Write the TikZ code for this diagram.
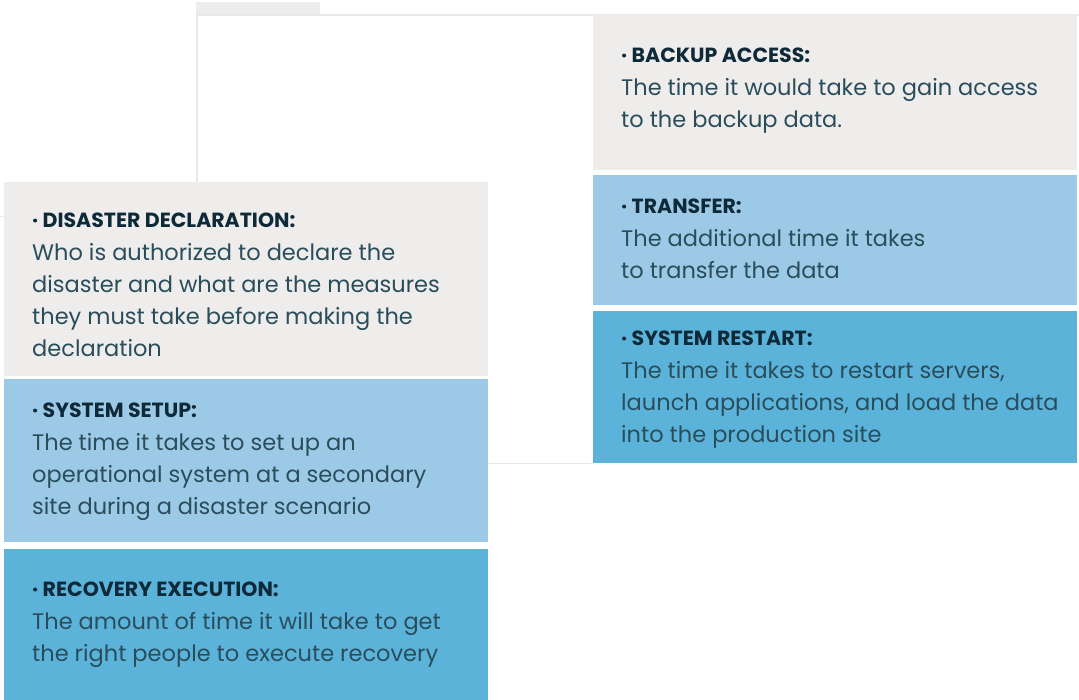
\documentclass[tikz,border=0pt]{standalone}
\usepackage{fontspec}
\setmainfont{Poppins}
\usepackage{tikz}
\usetikzlibrary{positioning}

\definecolor{boxgrey}{HTML}{EEEDEB}
\definecolor{boxlight}{HTML}{9CCAE6}
\definecolor{boxblue}{HTML}{5BB3DA}
\definecolor{headnavy}{HTML}{0E2A38}
\definecolor{bodyslate}{HTML}{2A4D5C}
\definecolor{faint}{HTML}{E9E9E9}

\tikzset{
  panel/.style={rectangle, inner sep=0pt, outer sep=0pt, anchor=north west, fill=#1},
  blurb/.style={anchor=north west, inner sep=0pt, align=left, text=bodyslate,
    font=\fontsize{22.5}{32}\selectfont},
  guide/.style={draw=faint, line width=1.2pt}
}
\newcommand{\hd}[1]{{\color{headnavy}\fontsize{20.5}{33}\selectfont\bfseries\textperiodcentered\ #1}}

\begin{document}
\begin{tikzpicture}[x=1pt, y=-1pt]
    \useasboundingbox (0,0) rectangle (1079,700);
    % faint frame behind the panels
    \fill[boxgrey] (196,2) rectangle (320,15);
    \coordinate (ftl) at (197,15);
    \coordinate (ftr) at (1079,15);
    \coordinate (fbl) at (197,182);
    \coordinate (fl1) at (0,216.5);
    \coordinate (fl2) at (4,216.5);
    \coordinate (fb1) at (488,463.5);
    \coordinate (fb2) at (594,463.5);
    \draw[guide] (ftr) -- (ftl) -- (fbl);
    \draw[guide] (fl1) -- (fl2);
    \draw[guide] (fb1) -- (fb2);

    % right column
    \node[panel=boxgrey, minimum width=484pt, minimum height=155pt] (backup) at (593,15) {};
    \node[panel=boxlight, minimum width=484pt, minimum height=130pt] (transfer) at (593,175) {};
    \node[panel=boxblue, minimum width=484pt, minimum height=152pt] (restart) at (593,311) {};

    % left column
    \node[panel=boxgrey, minimum width=484pt, minimum height=194pt] (declare) at (4,182) {};
    \node[panel=boxlight, minimum width=484pt, minimum height=163pt] (setup) at (4,379) {};
    \node[panel=boxblue, minimum width=484pt, minimum height=151pt] (execute) at (4,549) {};

    \node[blurb] (backuptxt) at (621,48) {\hd{BACKUP ACCESS:}\\[1pt]The time it would take to gain access\\to the backup data.};
    \node[blurb] (transfertxt) at (621,199) {\hd{TRANSFER:}\\[1pt]The additional time it takes\\to transfer the data};
    \node[blurb] (restarttxt) at (621,331) {\hd{SYSTEM RESTART:}\\[1pt]The time it takes to restart servers,\\launch applications, and load the data\\into the production site};

    \node[blurb] (declaretxt) at (32,213) {\hd{DISASTER DECLARATION:}\\[1pt]Who is authorized to declare the\\disaster and what are the measures\\they must take before making the\\declaration};
    \node[blurb] (setuptxt) at (32,403) {\hd{SYSTEM SETUP:}\\[1pt]The time it takes to set up an\\operational system at a secondary\\site during a disaster scenario};
    \node[blurb] (executetxt) at (32,582) {\hd{RECOVERY EXECUTION:}\\[1pt]The amount of time it will take to get\\the right people to execute recovery};
\end{tikzpicture}
\end{document}
